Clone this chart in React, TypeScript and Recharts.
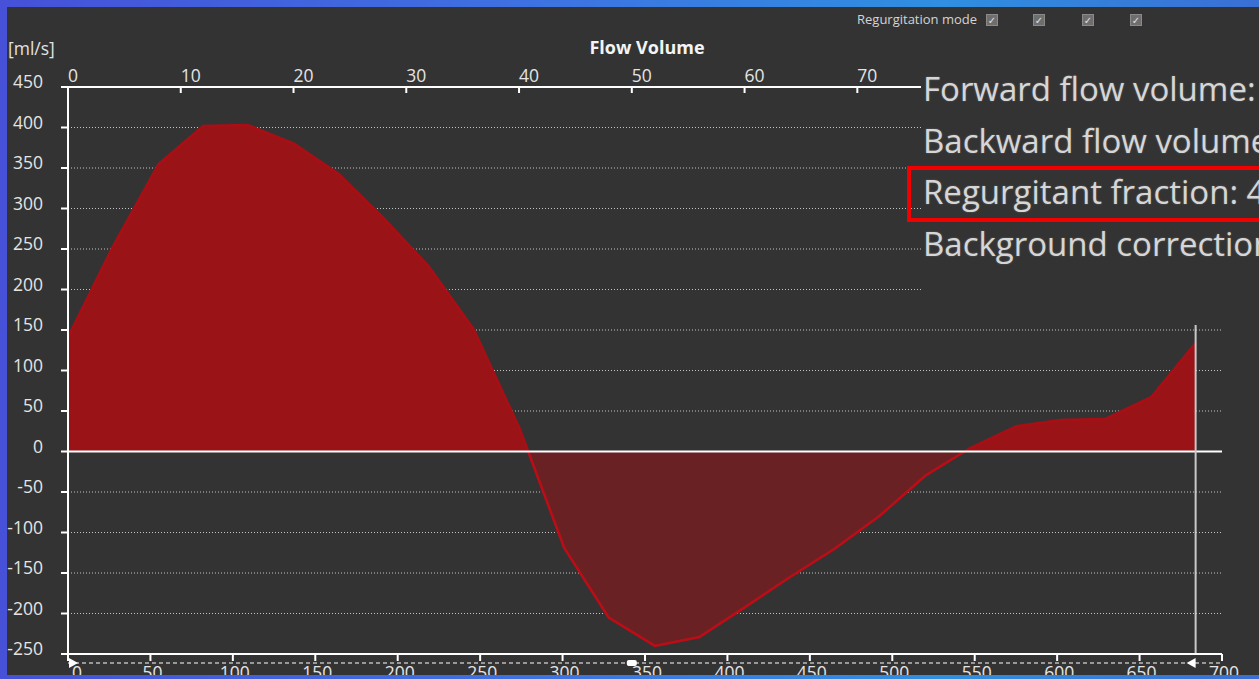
import { AreaChart, Area, XAxis, YAxis, CartesianGrid, ReferenceLine, ReferenceDot } from 'recharts';

// Sample times over one heart cycle (ms) and measured flow (ml/s)
const TIME_MS = [0, 27, 55, 82, 109, 137, 164, 192, 219, 246, 274, 301, 328, 356, 383, 410, 438, 465, 492, 520, 547, 575, 602, 629, 657, 684];
const FLOW = [141, 252, 355, 402, 403, 380, 343, 287, 228, 151, 28, -119, -205, -240, -229, -193, -155, -120, -80, -30, 4, 31, 39, 40, 67, 134];

const MS_TICKS = [0, 50, 100, 150, 200, 250, 300, 350, 400, 450, 500, 550, 600, 650, 700];
const PCT_TICKS = [0, 10, 20, 30, 40, 50, 60, 70];
const FLOW_TICKS = [450, 400, 350, 300, 250, 200, 150, 100, 50, 0, -50, -100, -150, -200, -250];

const CYCLE_END = 684;
const CYCLE_MID = 342;

const STATS = ['Forward flow volume:', 'Backward flow volume:', 'Regurgitant fraction: 42 %', 'Background correction'];

// pct = position within the cycle, shown on the top axis
const data = TIME_MS.map((t, i) => ({ t, pct: (t / CYCLE_END) * 100, flow: FLOW[i] }));

const maxFlow = Math.max(...FLOW);
const minFlow = Math.min(...FLOW);
const zeroOffset = maxFlow / (maxFlow - minFlow);

const FONT = '"Open Sans", "DejaVu Sans", sans-serif';

const YTick = ({ x, y, payload }: any) => (
  <g>
    <line x1={x - 7} x2={x} y1={y} y2={y} stroke="#fff" strokeWidth={2} />
    <text x={x - 25} y={y - 6} textAnchor="end" dominantBaseline="central" fill="#e4e4e4" fontSize={17.5} fontFamily={FONT}>
      {payload.value}
    </text>
  </g>
);

const TopTick = ({ x, y, payload }: any) => (
  <g>
    <line x1={x} x2={x} y1={y} y2={y + 6} stroke="#fff" strokeWidth={2} />
    <text x={x} y={y - 12} textAnchor="start" dominantBaseline="central" fill="#e4e4e4" fontSize={17.5} fontFamily={FONT}>
      {payload.value}
    </text>
  </g>
);

const BottomTick = ({ x, y, payload }: any) => (
  <g>
    <line x1={x} x2={x} y1={y} y2={y + 7} stroke="#fff" strokeWidth={2} />
    <text x={x + (payload.value === 0 ? 9 : 2)} y={y + 18} textAnchor="middle" dominantBaseline="central" fill="#e4e4e4" fontSize={17.5} fontFamily={FONT}>
      {payload.value}
    </text>
  </g>
);

// range selector track under the time axis
const RangeTrack = (props: any) => (
  <line x1={props.x1} x2={props.x2} y1={props.y1 + 9} y2={props.y2 + 9} stroke="#fff" strokeWidth={1.2} strokeDasharray="4 3" />
);

const StartMarker = ({ cx, cy }: any) => (
  <path d={`M${cx + 1},${cy + 4} L${cx + 10},${cy + 9} L${cx + 1},${cy + 14} Z`} fill="#fff" />
);

const EndMarker = ({ cx, cy }: any) => (
  <path d={`M${cx},${cy + 4} L${cx - 9},${cy + 9} L${cx},${cy + 14} Z`} fill="#fff" />
);

const MidHandle = ({ cx, cy }: any) => (
  <rect x={cx - 5} y={cy + 6} width={10} height={6} rx={2} fill="#fff" />
);

const Checkbox = ({ left }: { left: number }) => (
  <div
    style={{
      position: 'absolute', left, top: 7, width: 10, height: 10,
      background: '#6e6e6e', border: '1px solid #8a8a8a',
      color: '#e0e0e0', fontSize: 10, lineHeight: '10px', textAlign: 'center', fontFamily: FONT,
    }}
  >
    ✓
  </div>
);

export default function App() {
  return (
    <div
      style={{
        position: 'absolute', left: 0, top: 0, width: 1259, height: 679, overflow: 'hidden',
        background: 'linear-gradient(90deg, #4651d8 0%, #3d74e2 45%, #2f8fe0 75%, #3a6fd4 100%)',
      }}
    >
      <div style={{ position: 'absolute', left: 7, top: 7, width: 1252, height: 668, background: '#333333', overflow: 'hidden' }}>
        <AreaChart width={1252} height={690} data={data} margin={{ top: 0, right: 37, bottom: 0, left: 0 }}>
          <defs>
            <linearGradient id="flowFill" x1="0" y1="0" x2="0" y2="1">
              <stop offset={zeroOffset} stopColor="#9a1316" stopOpacity={1} />
              <stop offset={zeroOffset} stopColor="#6a2123" stopOpacity={1} />
            </linearGradient>
            <linearGradient id="flowStroke" x1="0" y1="0" x2="0" y2="1">
              <stop offset={zeroOffset} stopColor="#aa0e15" />
              <stop offset={zeroOffset} stopColor="#be0c16" />
            </linearGradient>
          </defs>
          <CartesianGrid vertical={false} stroke="#c4c4c4" strokeDasharray="1 2" />
          <XAxis
            xAxisId="ms"
            dataKey="t"
            type="number"
            domain={[0, 700]}
            ticks={MS_TICKS}
            height={43}
            axisLine={{ stroke: '#fff', strokeWidth: 2 }}
            tickLine={false}
            tickSize={0}
            tickMargin={0}
            tick={<BottomTick />}
            interval={0}
          />
          <XAxis
            xAxisId="pct"
            dataKey="pct"
            orientation="top"
            type="number"
            domain={[0, 102.34]}
            allowDataOverflow
            ticks={PCT_TICKS}
            height={80}
            axisLine={{ stroke: '#fff', strokeWidth: 2 }}
            tickLine={false}
            tickSize={0}
            tickMargin={0}
            tick={<TopTick />}
            interval={0}
          />
          <YAxis
            type="number"
            domain={[-250, 450]}
            ticks={FLOW_TICKS}
            width={61}
            axisLine={{ stroke: '#fff', strokeWidth: 2 }}
            tickLine={false}
            tickSize={0}
            tickMargin={0}
            tick={<YTick />}
            interval={0}
          />
          <Area
            xAxisId="ms"
            type="linear"
            dataKey="flow"
            stroke="url(#flowStroke)"
            strokeWidth={2.5}
            fill="url(#flowFill)"
            fillOpacity={1}
            isAnimationActive={false}
          />
          <ReferenceLine xAxisId="ms" y={0} stroke="#fff" strokeWidth={2} />
          <ReferenceLine xAxisId="ms" x={CYCLE_END} stroke="#c8c8c8" strokeWidth={2} />
          <ReferenceLine xAxisId="ms" y={-250} shape={<RangeTrack />} />
          <ReferenceDot xAxisId="ms" x={0} y={-250} shape={<StartMarker />} />
          <ReferenceDot xAxisId="ms" x={CYCLE_MID} y={-250} shape={<MidHandle />} />
          <ReferenceDot xAxisId="ms" x={CYCLE_END} y={-250} shape={<EndMarker />} />
        </AreaChart>

        <div style={{ position: 'absolute', left: 1, top: 29, fontFamily: FONT, fontSize: 17.5, color: '#e2e2e2' }}>[ml/s]</div>
        <div style={{ position: 'absolute', left: 540, width: 200, top: 28, textAlign: 'center', fontFamily: FONT, fontSize: 18, fontWeight: 700, color: '#f4f4f4' }}>
          Flow Volume
        </div>

        <div style={{ position: 'absolute', left: 850, top: 3, fontFamily: FONT, fontSize: 13, color: '#d4d4d4' }}>Regurgitation mode</div>
        <Checkbox left={979} />
        <Checkbox left={1026} />
        <Checkbox left={1075} />
        <Checkbox left={1123} />

        <div style={{ position: 'absolute', left: 914, top: 55, width: 400, height: 263, background: '#333333' }}>
          {STATS.map((s, i) => (
            <div
              key={s}
              style={{
                position: 'absolute', left: 2, top: 4 + i * 51.5, whiteSpace: 'nowrap',
                fontFamily: FONT, fontSize: 33, color: '#d6d6d6', textShadow: '0 0 2px rgba(255,255,255,0.25)',
              }}
            >
              {s}
            </div>
          ))}
          <div style={{ position: 'absolute', left: -14, top: 104, width: 400, height: 48, border: '4px solid #f20000' }} />
        </div>
      </div>
    </div>
  );
}
